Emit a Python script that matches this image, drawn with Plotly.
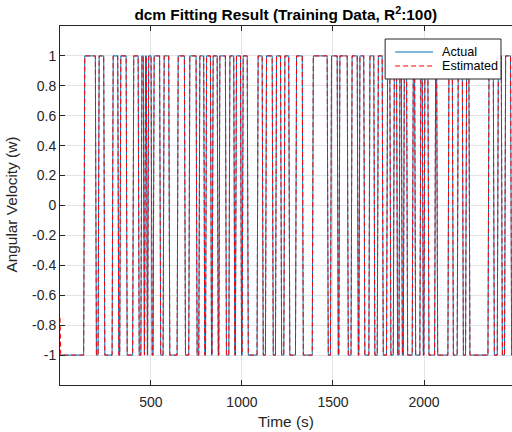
import numpy as np
import plotly.graph_objects as go

# Time (s) at which the signal rises to +1 and falls back to -1
rise_times = [131, 210, 287, 329, 400, 445, 465, 482, 512, 567, 644, 708, 763, 800, 836,
              873, 928, 964, 1001, 1083, 1129, 1184, 1230, 1294, 1386, 1486, 1532, 1599,
              1642, 1697, 1743, 1794, 1831, 1862, 1886, 1935, 1977, 1999, 2058, 2131, 2182,
              2228, 2351, 2402, 2442]
fall_times = [195, 241, 318, 364, 430, 458, 475, 501, 548, 598, 684, 748, 790, 827, 864,
              909, 955, 992, 1029, 1111, 1166, 1212, 1257, 1331, 1468, 1523, 1578, 1633,
              1669, 1724, 1770, 1812, 1849, 1875, 1904, 1948, 1990, 2021, 2069, 2155, 2210,
              2246, 2380, 2424, 2475]
t_start, t_end = 1, 2500
low_level, high_level = -1.0, 1.0
est_initial = -0.75
ramp = 6  # transition duration in seconds

series_names = ["Actual", "Estimated"]
x_ticks = [500, 1000, 1500, 2000]
y_ticks = [-1, -0.8, -0.6, -0.4, -0.2, 0, 0.2, 0.4, 0.6, 0.8, 1]

# build the square wave from the edge list
t = [t_start]
w = [low_level]
for r, f in zip(rise_times, fall_times):
    t += [r, r + ramp, f, f + ramp]
    w += [low_level, high_level, high_level, low_level]
t.append(t_end)
w.append(low_level)
t = np.array(t, dtype=float)
actual = np.array(w)
t_est = np.concatenate([[t_start, t_start + 4], t[1:]])
est = np.concatenate([[est_initial, low_level], actual[1:]])

blue, red = "#0072BD", "#FF0000"
red_dash = "5px,3px"

fig = go.Figure()
fig.add_trace(go.Scatter(x=t, y=actual, mode="lines", name=series_names[0],
                         line=dict(color=blue, width=1), showlegend=False))
fig.add_trace(go.Scatter(x=t_est, y=est, mode="lines", name=series_names[1],
                         line=dict(color=red, width=1, dash=red_dash), showlegend=False))

font_family = "Liberation Sans, Arial, sans-serif"
axis_col = "#262626"
grid_col = "#E3E3E3"

W, H = 512, 432
left, right, top, bottom = 59.5, 0, 26, 47
pw, ph = W - left - right, H - top - bottom


def px(xp):
    return (xp - left) / pw


def py(yp):
    return (H - bottom - yp) / ph


# manual legend (box, sample lines, labels)
shapes = [
    dict(type="rect", xref="paper", yref="paper", x0=px(385), x1=px(501), y0=py(79), y1=py(39),
         line=dict(color=axis_col, width=1), fillcolor="white", layer="above"),
    dict(type="line", xref="paper", yref="paper", x0=px(395), x1=px(433), y0=py(52), y1=py(52),
         line=dict(color=blue, width=1), layer="above"),
    dict(type="line", xref="paper", yref="paper", x0=px(395), x1=px(433), y0=py(66), y1=py(66),
         line=dict(color=red, width=1, dash=red_dash), layer="above"),
]
annotations = [
    dict(text=series_names[0], xref="paper", yref="paper", x=px(440), y=py(52),
         xanchor="left", yanchor="middle", showarrow=False,
         font=dict(size=12.6, color="#000000")),
    dict(text=series_names[1], xref="paper", yref="paper", x=px(440), y=py(66),
         xanchor="left", yanchor="middle", showarrow=False,
         font=dict(size=12.6, color="#000000")),
    dict(text="Angular Velocity (w)", xref="paper", yref="paper", x=px(10), y=py(205),
         xanchor="center", yanchor="middle", textangle=-90, showarrow=False,
         font=dict(size=15.4, color=axis_col)),
    dict(text="Time (s)", xref="paper", yref="paper", x=px(286), y=py(421),
         xanchor="center", yanchor="middle", showarrow=False,
         font=dict(size=15.4, color=axis_col)),
]

fig.update_layout(
    width=W, height=H,
    margin=dict(l=left, r=right, t=top, b=bottom),
    paper_bgcolor="white", plot_bgcolor="white",
    font=dict(family=font_family, size=14, color=axis_col),
    title=dict(text="<b>dcm Fitting Result (Training Data, R<sup>2</sup>:100)</b>",
               x=(left + (W - right)) / 2 / W, xanchor="center",
               y=1 - 15 / H, yanchor="middle",
               font=dict(size=15.4, color="#000000")),
    showlegend=False,
    shapes=shapes,
    annotations=annotations,
    xaxis=dict(range=[t_start, 2483], tickvals=x_ticks, ticks="inside", ticklen=5,
               tickcolor=axis_col, showline=True, linecolor=axis_col, linewidth=1,
               mirror="ticks", showgrid=True, gridcolor=grid_col, gridwidth=1,
               zeroline=False, ticklabelstandoff=4),
    yaxis=dict(range=[-1.2, 1.2], tickvals=y_ticks,
               ticktext=[("%g" % v) for v in y_ticks],
               ticks="inside", ticklen=5, tickcolor=axis_col,
               showline=True, linecolor=axis_col, linewidth=1, mirror=False,
               showgrid=True, gridcolor=grid_col, gridwidth=1, zeroline=False),
)

fig.write_html("out.html")
